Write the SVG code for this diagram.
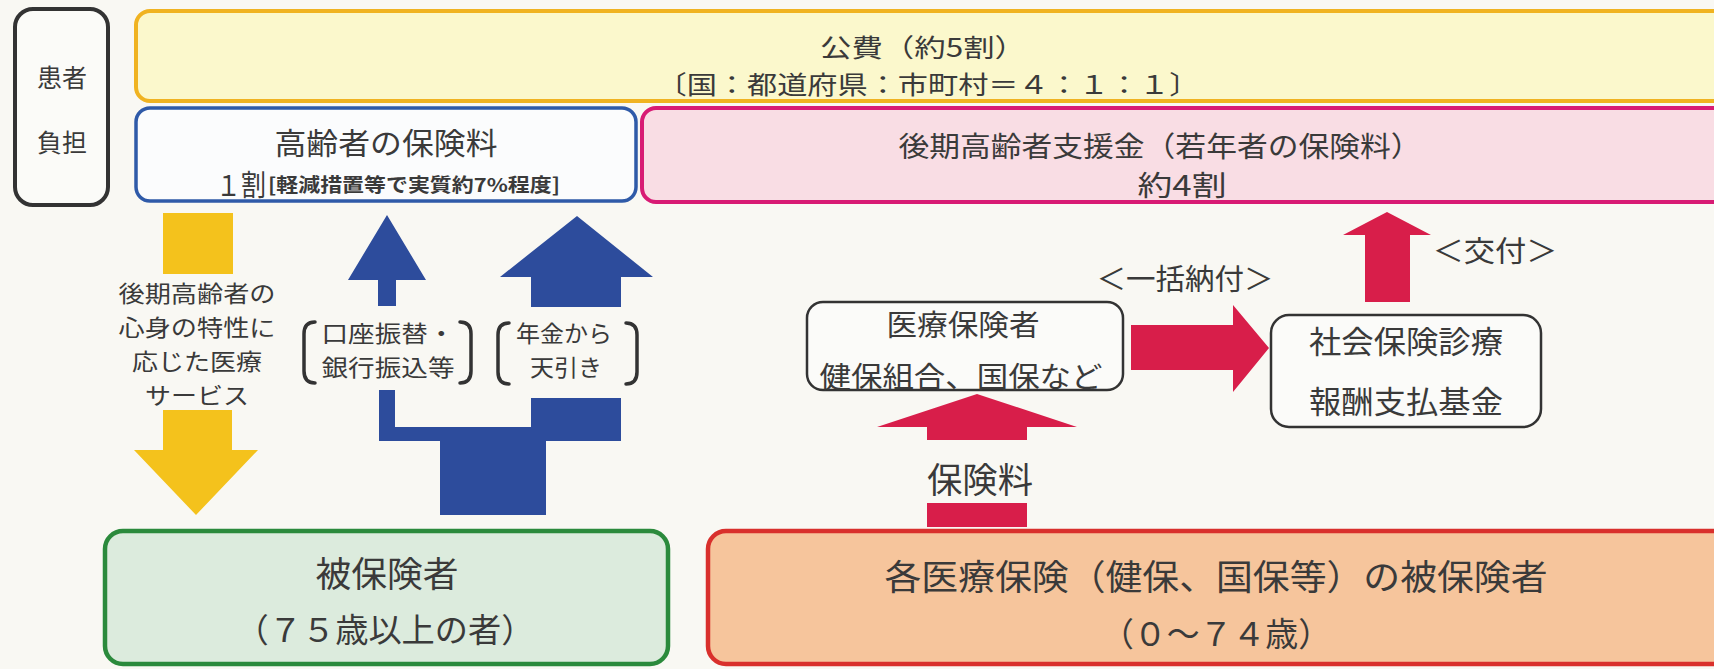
<svg xmlns="http://www.w3.org/2000/svg" width="1714" height="669" viewBox="0 0 1714 669">
<style>
text{font-family:"Noto Sans CJK JP","Noto Sans",sans-serif;fill:#3a3a3a;text-anchor:middle}
.st{text-anchor:start}
.yarr{fill:#f4c21c}
.barr{fill:#2d4c9c}
.parr{fill:#d81e4a}
.brk{fill:none;stroke:#333;stroke-width:3.5;stroke-linecap:round}
</style>
<rect width="1714" height="669" fill="#f9f8f3"/>

<g id="patient-burden">
<rect x="15" y="9" width="93" height="196" rx="18" fill="#fbfbf8" stroke="#333" stroke-width="4"/>
<text x="62" y="87" font-size="25">患者</text>
<text x="62" y="152" font-size="25">負担</text>
</g>

<g id="public-funds">
<rect x="136" y="11" width="1600" height="90" rx="14" fill="#fbf8cc" stroke="#f0b321" stroke-width="4"/>
<text x="923" y="57" font-size="25.5" textLength="206" lengthAdjust="spacingAndGlyphs">公費（約5割）</text>
<text x="928" y="94" font-size="25.5" textLength="543" lengthAdjust="spacingAndGlyphs">〔国：都道府県：市町村＝４：１：１〕</text>
</g>

<g id="elderly-premium">
<rect x="136" y="108" width="500" height="93" rx="14" fill="#fbfcfd" stroke="#2f5aa8" stroke-width="3.5"/>
<text x="386" y="154" font-size="30" textLength="223" lengthAdjust="spacingAndGlyphs">高齢者の保険料</text>
<text class="st" x="216" y="196" font-size="29" textLength="50" lengthAdjust="spacingAndGlyphs">１割</text>
<text class="st" x="268" y="192" font-size="19" font-weight="bold" textLength="292" lengthAdjust="spacingAndGlyphs">[軽減措置等で実質約7%程度]</text>
</g>

<g id="support-funds">
<rect x="642" y="108" width="1100" height="94" rx="14" fill="#f9dde4" stroke="#d81b74" stroke-width="4"/>
<text x="1160" y="157" font-size="28" textLength="523" lengthAdjust="spacingAndGlyphs">後期高齢者支援金（若年者の保険料）</text>
<text x="1182" y="196" font-size="28" textLength="89" lengthAdjust="spacingAndGlyphs">約4割</text>
</g>

<g id="insurers">
<rect x="807" y="302" width="316" height="88" rx="16" fill="#fbfbf9" stroke="#333" stroke-width="2.5"/>
<text x="963" y="336" font-size="29" textLength="153" lengthAdjust="spacingAndGlyphs">医療保険者</text>
<text x="961" y="388" font-size="29" textLength="283" lengthAdjust="spacingAndGlyphs">健保組合、国保など</text>
</g>

<g id="fund">
<rect x="1271" y="315" width="270" height="112" rx="18" fill="#fbfbf9" stroke="#333" stroke-width="2.5"/>
<text x="1406" y="353" font-size="31" textLength="194" lengthAdjust="spacingAndGlyphs">社会保険診療</text>
<text x="1406" y="413" font-size="31" textLength="194" lengthAdjust="spacingAndGlyphs">報酬支払基金</text>
</g>

<g id="insured-elderly">
<rect x="105" y="531" width="563" height="133" rx="18" fill="#dcebdd" stroke="#2b8a3c" stroke-width="4.5"/>
<text x="387" y="587" font-size="35" textLength="143" lengthAdjust="spacingAndGlyphs">被保険者</text>
<text x="385" y="642" font-size="33" textLength="299" lengthAdjust="spacingAndGlyphs">（７５歳以上の者）</text>
</g>

<g id="insured-young">
<rect x="708" y="531" width="1030" height="133" rx="18" fill="#f6c59c" stroke="#d9302c" stroke-width="4.5"/>
<text x="1216" y="590" font-size="35" textLength="663" lengthAdjust="spacingAndGlyphs">各医療保険（健保、国保等）の被保険者</text>
<text x="1216" y="646" font-size="33" textLength="230" lengthAdjust="spacingAndGlyphs">（０～７４歳）</text>
</g>

<g id="connectors">
<g id="medical-service">
<rect class="yarr" x="163" y="213" width="70" height="61"/>
<polygon class="yarr" points="163,410 232,410 232,450 258,450 196,515 134,450 163,450"/>
<text x="197" y="302" font-size="23" textLength="157" lengthAdjust="spacingAndGlyphs">後期高齢者の</text>
<text x="197" y="336" font-size="23" textLength="157" lengthAdjust="spacingAndGlyphs">心身の特性に</text>
<text x="197" y="370" font-size="23" textLength="130" lengthAdjust="spacingAndGlyphs">応じた医療</text>
<text x="197" y="404" font-size="23" textLength="104" lengthAdjust="spacingAndGlyphs">サービス</text>
</g>
<g id="premium-payment">
<polygon class="barr" points="387,215 426,280 396,280 396,306 378,306 378,280 348,280"/>
<polygon class="barr" points="577,216 653,277 621,277 621,307 531,307 531,277 500,277"/>
<path class="barr" d="M379,390 H395 V427 H531 V398 H621 V441 H546 V515 H440 V441 H379 Z"/>
<path class="brk" d="M315,322 Q304,322 304,334 V371 Q304,383 315,383"/>
<path class="brk" d="M460,322 Q471,322 471,334 V371 Q471,383 460,383"/>
<path class="brk" d="M509,323 Q498,323 498,335 V372 Q498,384 509,384"/>
<path class="brk" d="M626,323 Q637,323 637,335 V372 Q637,384 626,384"/>
<text x="388" y="342" font-size="23" textLength="133" lengthAdjust="spacingAndGlyphs">口座振替・</text>
<text x="388" y="376" font-size="23" textLength="133" lengthAdjust="spacingAndGlyphs">銀行振込等</text>
<text x="564" y="342" font-size="23" textLength="96" lengthAdjust="spacingAndGlyphs">年金から</text>
<text x="566" y="376" font-size="23" textLength="72" lengthAdjust="spacingAndGlyphs">天引き</text>
</g>
<g id="young-premium">
<polygon class="parr" points="977,394 1077,427 1027,427 1027,440 927,440 927,427 877,427"/>
<rect class="parr" x="927" y="503" width="100" height="24"/>
<text x="980" y="493" font-size="35" textLength="106" lengthAdjust="spacingAndGlyphs">保険料</text>
</g>
<g id="lump-sum">
<polygon class="parr" points="1131,325 1233,325 1233,305 1269,348 1233,392 1233,370 1131,370"/>
<text x="1185" y="290" font-size="29" textLength="177" lengthAdjust="spacingAndGlyphs">＜一括納付＞</text>
</g>
<g id="grant">
<polygon class="parr" points="1387,212 1431,235 1410,235 1410,302 1365,302 1365,235 1343,235"/>
<text x="1495" y="262" font-size="29" textLength="125" lengthAdjust="spacingAndGlyphs">＜交付＞</text>
</g>
</g>
</svg>
